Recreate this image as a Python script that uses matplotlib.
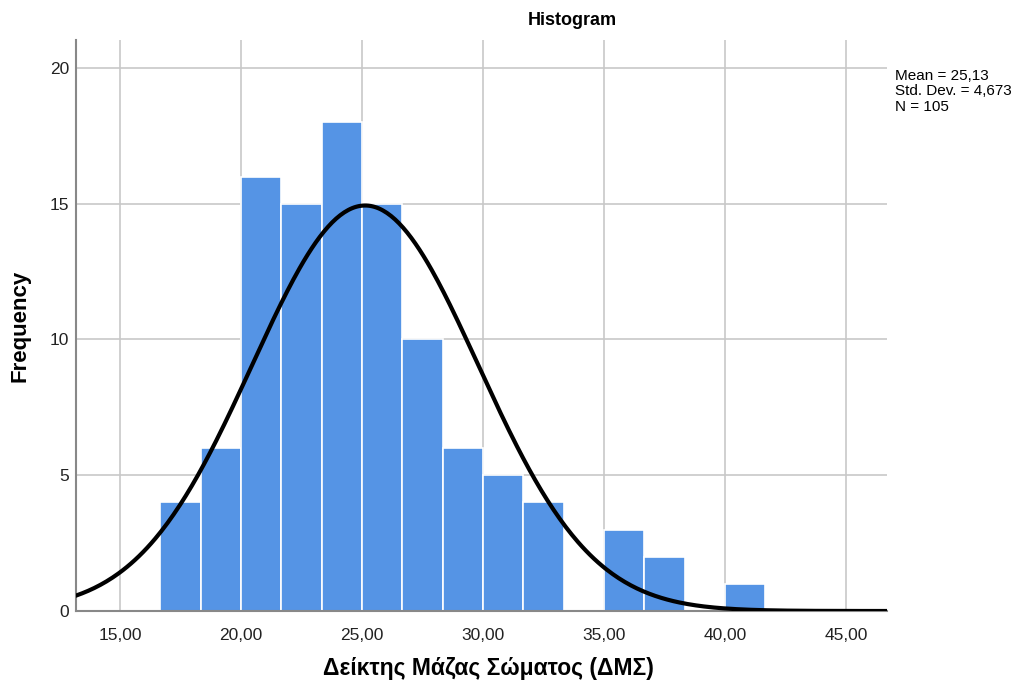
import numpy as np
import matplotlib
matplotlib.use("Agg")
import matplotlib.pyplot as plt

plt.rcParams["font.family"] = ["Liberation Sans", "DejaVu Sans"]

# histogram bins (left edges, width 5/3)
bin_edges = [16.667, 18.333, 20.0, 21.667, 23.333, 25.0, 26.667, 28.333,
             30.0, 31.667, 33.333, 35.0, 36.667, 38.333, 40.0, 41.667]
counts = [4, 6, 16, 15, 18, 15, 10, 6, 5, 4, 0, 3, 2, 0, 1]
mean, sd, n = 25.13, 4.673, 105
x_ticks = [15, 20, 25, 30, 35, 40, 45]
y_ticks = [0, 5, 10, 15, 20]

fig = plt.figure(figsize=(10.2, 6.88), dpi=100)
ax = fig.add_axes([0.0745, 0.1119, 0.795, 0.83])

lefts = np.array(bin_edges[:-1])
widths = np.diff(bin_edges)
ax.bar(lefts, counts, width=widths, align="edge", color="#5594e5",
       edgecolor="white", linewidth=1.2, zorder=2)

# normal curve from the shown mean / sd, scaled to counts
xs = np.linspace(13.18, 46.69, 400)
binw = widths[0]
ys = n * binw / (sd * np.sqrt(2 * np.pi)) * np.exp(-0.5 * ((xs - mean) / sd) ** 2)
ax.plot(xs, ys, color="black", lw=3, zorder=3)

ax.set_xlim(13.18, 46.69)
ax.set_ylim(0, 21.03)
ax.set_xticks(x_ticks)
ax.set_xticklabels([f"{t:.2f}".replace(".", ",") for t in x_ticks])
ax.set_yticks(y_ticks)
ax.tick_params(length=0, labelsize=12.5, colors="#222222")
ax.tick_params(axis="x", pad=12)
ax.tick_params(axis="y", pad=5)
ax.grid(True, color="#c8c8c8", lw=1.2, zorder=1)
ax.set_axisbelow(True)
for s in ["top", "right"]:
    ax.spines[s].set_visible(False)
for s in ["left", "bottom"]:
    ax.spines[s].set_color("#888888")
    ax.spines[s].set_linewidth(1.5)

ax.set_xlabel("Δείκτης Μάζας Σώματος (ΔΜΣ)", fontsize=16.5, fontweight="bold")
ax.xaxis.set_label_coords(0.509, -0.08)
ax.set_ylabel("Frequency", fontsize=16, fontweight="bold")
ax.yaxis.set_label_coords(-0.056, 0.5)
fig.text(0.561, 0.97, "Histogram", ha="center", va="center", fontsize=13, fontweight="bold")
fig.text(0.877, 0.9, "Mean = 25,13\nStd. Dev. = 4,673\nN = 105", ha="left", va="top",
         fontsize=11, linespacing=1.15)

fig.savefig("out.png", dpi=100)
